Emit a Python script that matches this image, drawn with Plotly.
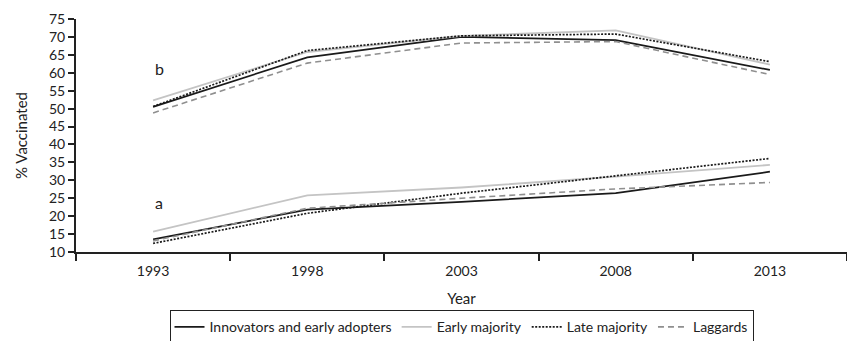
import plotly.graph_objects as go

years = ["1993", "1998", "2003", "2008", "2013"]

# Group b (upper)
b_innovators = [50.5, 64.3, 70.0, 69.1, 60.8]
b_early = [52.3, 65.8, 70.3, 71.8, 62.3]
b_late = [50.6, 66.2, 70.3, 70.8, 63.1]
b_laggards = [48.8, 62.7, 68.3, 68.7, 59.5]

# Group a (lower)
a_innovators = [13.5, 21.8, 24.0, 26.4, 32.4]
a_early = [15.7, 25.8, 28.0, 31.0, 34.3]
a_late = [12.4, 20.8, 26.4, 31.2, 36.1]
a_laggards = [13.1, 22.2, 25.0, 27.6, 29.4]

group_labels = ["b", "a"]
group_label_values = [61.3, 23.7]

series_names = ["Innovators and early adopters", "Early majority", "Late majority", "Laggards"]
styles = [
    dict(color="#1a1a1a", width=1.7, dash="solid"),
    dict(color="#c4c4c4", width=1.8, dash="solid"),
    dict(color="#1a1a1a", width=1.7, dash="2px,1.5px"),
    dict(color="#8f8f8f", width=1.6, dash="6px,4px"),
]

fig = go.Figure()
b_groups = [b_innovators, b_early, b_late, b_laggards]
a_groups = [a_innovators, a_early, a_late, a_laggards]
for name, st, yb, ya in zip(series_names, styles, b_groups, a_groups):
    fig.add_trace(go.Scatter(x=years, y=yb, mode="lines", name=name, line=st,
                             legendgroup=name, showlegend=True))
    fig.add_trace(go.Scatter(x=years, y=ya, mode="lines", name=name, line=st,
                             legendgroup=name, showlegend=False))

font_family = "Lato, 'Open Sans', sans-serif"

for lab, val in zip(group_labels, group_label_values):
    fig.add_annotation(x=0, y=val, text=lab, showarrow=False, xshift=6,
                       font=dict(size=16, color="#222", family=font_family))

fig.update_layout(
    width=847, height=341,
    margin=dict(l=76, r=0, t=19, b=89, autoexpand=False),
    paper_bgcolor="white", plot_bgcolor="white",
    font=dict(family=font_family, size=14, color="#222"),
    showlegend=True,
    legend=dict(orientation="h", x=0.5, xanchor="center", y=-0.25, yanchor="top",
                bordercolor="#222", borderwidth=1, font=dict(size=14),
                tracegroupgap=0),
    xaxis=dict(type="category", range=[-0.5, 4.5], showgrid=False, zeroline=False,
               showline=True, linecolor="#222", linewidth=2, automargin=False,
               ticks="outside", tickson="boundaries", ticklen=7, tickwidth=2, tickcolor="#222",
               ticklabelstandoff=5,
               title=dict(text="Year", standoff=16, font=dict(size=15)),
               tickfont=dict(size=14)),
    yaxis=dict(range=[10, 75], dtick=5, tick0=10, showgrid=False, zeroline=False,
               showline=True, linecolor="#222", linewidth=2, automargin=False,
               ticks="outside", ticklen=6, tickwidth=2, tickcolor="#222",
               title=dict(text="% Vaccinated", standoff=18, font=dict(size=15)),
               tickfont=dict(size=14)),
)

fig.write_html(
    "out.html",
    config={"displayModeBar": False},
    post_script="document.body.style.margin='0';document.body.style.overflow='hidden';",
)
